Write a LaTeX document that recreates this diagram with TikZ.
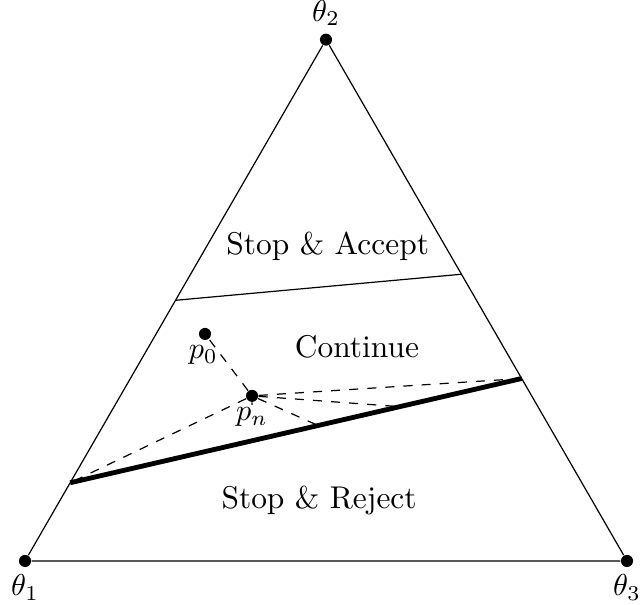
\documentclass[tikz,border=0pt]{standalone}
\usepackage{amsmath}
\usepackage{amssymb}
\usetikzlibrary{calc}
\tikzset{dot/.style={circle,fill=black,inner sep=0pt,minimum size=4pt},
  proj/.style={dashed},
  every node/.style={font=\fontsize{10.4pt}{12.5pt}\selectfont}}

\begin{document}
\begin{tikzpicture}
\useasboundingbox (-0.291,-0.512) rectangle (7.163,6.523);
% corners of the simplex
\node[dot] (t1) at (0,0) {};
\node[dot] (t2) at (3.5,6.062) {};
\node[dot] (t3) at (7,0) {};
\node[below=1pt] at (t1) {$\theta_1$};
\node[above=1pt] at (t2) {$\theta_2$};
\node[below=1pt] at (t3) {$\theta_3$};
\draw (t1) -- (t2) -- (t3) -- (t1);

% boundaries
\coordinate (a1) at ($(t1)!0.5!(t2)$);
\coordinate (a2) at ($(t3)!0.55!(t2)$);
\coordinate (r1) at ($(t1)!0.15!(t2)$);
\coordinate (r2) at ($(t3)!0.35!(t2)$);
\draw (a1) -- (a2);
\draw[ultra thick] (r1) -- (r2);

\node at (3.52,3.66) {Stop \& Accept};
\node at (3.86,2.49) {Continue};
\node at (3.42,0.70) {Stop \& Reject};

% posterior path
\node[dot] (p0) at (2.093,2.64) {};
\node[dot] (pn) at (2.64,1.92) {};
\draw[proj] (pn) -- (p0);
\draw[proj] (pn) -- (r1);
\draw[proj] (pn) -- (r2);
\draw[proj] (pn) -- ($(r1)!0.73!(r2)$);
\draw[proj] (pn) -- ($(r1)!0.549!(r2)$);
\draw[proj] (pn) -- ($(r1)!0.403!(r2)$);
\node[inner sep=1pt] at ($(p0)+(-0.02,-0.25)$) {$p_0$};
\node[fill=white,inner sep=1pt] at ($(pn)+(0,-0.25)$) {$p_n$};
\end{tikzpicture}
\end{document}
